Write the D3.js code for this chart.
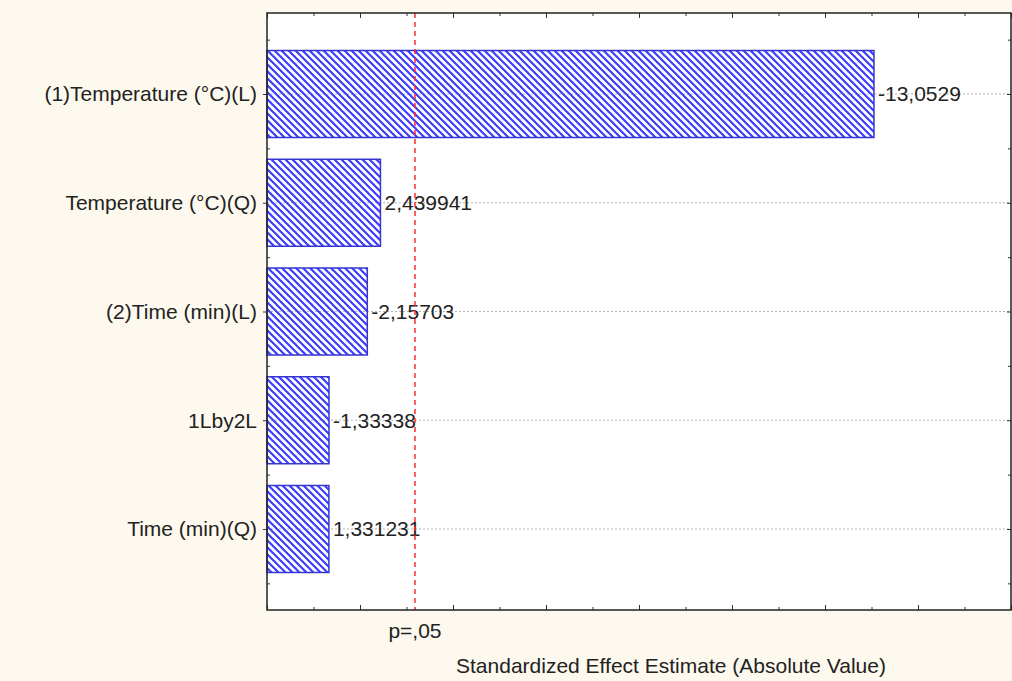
<!DOCTYPE html>
<html>
<head>
<meta charset="utf-8">
<script src="https://cdn.jsdelivr.net/npm/d3@7"></script>
<style>
  body { margin: 0; background: #fdf9ee; }
  svg { display: block; }
  text { font-family: Arial, "Liberation Sans", sans-serif; fill: #222; }
</style>
</head>
<body>
<svg></svg>
<script>
let width = 1012, height = 681;

// data
let categories = ["(1)Temperature (°C)(L)", "Temperature (°C)(Q)", "(2)Time (min)(L)", "1Lby2L", "Time (min)(Q)"];
let effects = [-13.0529, 2.439941, -2.15703, -1.33338, 1.331231];
let pCrit = 3.182446;          // t(0.975, df=3)
let pLabel = "p=,05";
let xMax = 16;

let margin = { top: 13, right: 1, bottom: 71, left: 267 };

let svg = d3.select("svg")
    .attr("width", width)
    .attr("height", height);

let defs = svg.append("defs");
defs.append("pattern")
    .attr("id", "hatch")
    .attr("patternUnits", "userSpaceOnUse")
    .attr("width", 7)
    .attr("height", 7)
    .append("path")
    .attr("d", "M-1,-1 l9,9 M-1,6 l2,2 M6,-1 l2,2")
    .attr("stroke", "#3c3cff")
    .attr("stroke-width", 2.2);

let x = d3.scaleLinear()
    .domain([0, xMax])
    .range([margin.left, width - margin.right]);

let y = d3.scaleBand()
    .domain(categories)
    .range([margin.top, height - margin.bottom])
    .paddingInner(0.2)
    .paddingOuter(0.345);

let x0 = x.range()[0], x1 = x.range()[1];
let y0 = y.range()[0], y1 = y.range()[1];

// plot background
svg.append("rect")
    .attr("x", x0).attr("y", y0)
    .attr("width", x1 - x0).attr("height", y1 - y0)
    .attr("fill", "#fff");

// gridlines at category centers
svg.append("g")
    .selectAll("line")
    .data(categories)
    .enter()
    .append("line")
    .attr("x1", x0).attr("x2", x1)
    .attr("y1", d => y(d) + y.bandwidth() / 2)
    .attr("y2", d => y(d) + y.bandwidth() / 2)
    .attr("stroke", "#b5b5b5")
    .attr("stroke-dasharray", "2,2");

// bars
let rows = categories.map((c, i) => ({ name: c, value: effects[i] }));

svg.append("g")
    .selectAll("rect")
    .data(rows)
    .enter()
    .append("rect")
    .attr("x", x(0))
    .attr("y", d => y(d.name))
    .attr("width", d => x(Math.abs(d.value)) - x(0))
    .attr("height", y.bandwidth())
    .attr("fill", "url(#hatch)")
    .attr("stroke", "#3535d0")
    .attr("stroke-width", 1.5);

// value labels
svg.append("g")
    .selectAll("text")
    .data(rows)
    .enter()
    .append("text")
    .attr("x", d => x(Math.abs(d.value)) + 4)
    .attr("y", d => y(d.name) + y.bandwidth() / 2)
    .attr("dy", "0.35em")
    .style("font-size", "21px")
    .text(d => String(d.value).replace(".", ","));

// p = .05 line
svg.append("line")
    .attr("x1", x(pCrit)).attr("x2", x(pCrit))
    .attr("y1", y0).attr("y2", y1)
    .attr("stroke", "#ff2a2a")
    .attr("stroke-width", 1.5)
    .attr("stroke-dasharray", "5,4");

// axes
let majorX = d3.range(0, xMax + 1, 2);
let minorX = d3.range(1, xMax, 2);

function xTicks(axisFn, yPos, vals, size) {
    svg.append("g")
        .attr("transform", "translate(0," + yPos + ")")
        .call(axisFn(x).tickValues(vals).tickSize(size).tickFormat(""))
        .call(g => g.select(".domain").remove())
        .selectAll("line").attr("stroke", "#333");
}
xTicks(d3.axisBottom, y1, majorX, -5);
xTicks(d3.axisBottom, y1, minorX, -3);
xTicks(d3.axisTop, y0, majorX, -5);
xTicks(d3.axisTop, y0, minorX, -3);

let centers = categories.map(c => y(c) + y.bandwidth() / 2);
let bounds = categories.slice(1).map(c => y(c) - y.step() * y.paddingInner() / 2);
bounds.unshift(y(categories[0]) - y.step() * y.paddingInner() / 2);
bounds.push(y(categories[categories.length - 1]) + y.bandwidth() + y.step() * y.paddingInner() / 2);

let yl = d3.scaleLinear().domain([y0, y1]).range([y0, y1]);
function yTicks(axisFn, xPos, vals, size) {
    svg.append("g")
        .attr("transform", "translate(" + xPos + ",0)")
        .call(axisFn(yl).tickValues(vals).tickSize(size).tickFormat(""))
        .call(g => g.select(".domain").remove())
        .selectAll("line").attr("stroke", "#333");
}
yTicks(d3.axisLeft, x0, centers, 4);
yTicks(d3.axisLeft, x0, bounds, -3);
yTicks(d3.axisRight, x1, centers, -4);
yTicks(d3.axisRight, x1, bounds, -3);

// frame
svg.append("rect")
    .attr("x", x0).attr("y", y0)
    .attr("width", x1 - x0).attr("height", y1 - y0)
    .attr("fill", "none")
    .attr("stroke", "#222")
    .attr("stroke-width", 1.5);

// category labels
svg.append("g")
    .selectAll("text")
    .data(categories)
    .enter()
    .append("text")
    .attr("x", x0 - 10)
    .attr("y", d => y(d) + y.bandwidth() / 2)
    .attr("dy", "0.35em")
    .attr("text-anchor", "end")
    .style("font-size", "21px")
    .text(d => d);

// p label and axis title
svg.append("text")
    .attr("x", x(pCrit))
    .attr("y", 638)
    .attr("text-anchor", "middle")
    .style("font-size", "21px")
    .text(pLabel);

svg.append("text")
    .attr("x", 671)
    .attr("y", 673)
    .attr("text-anchor", "middle")
    .style("font-size", "21px")
    .text("Standardized Effect Estimate (Absolute Value)");
</script>
</body>
</html>
